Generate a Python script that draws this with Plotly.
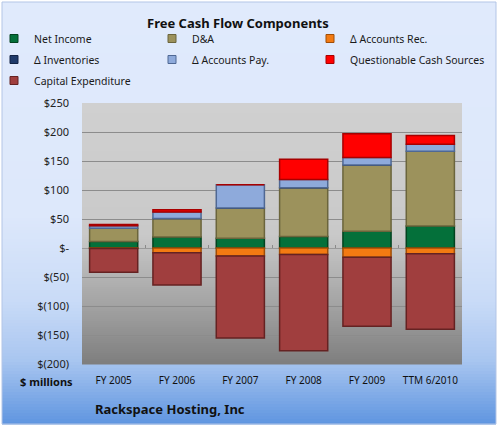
import plotly.graph_objects as go

# ---- data ($ millions) ----
periods = ["FY 2005", "FY 2006", "FY 2007", "FY 2008", "FY 2009", "TTM 6/2010"]
net_income = [11, 19, 17, 20, 29, 38]
d_and_a = [23, 32, 52, 84, 114, 129]
accounts_rec = [-1, -8, -14, -11, -16, -10]
inventories = [0, 0, 0, 0, 0, 0]
accounts_pay = [4.5, 11, 40, 14, 13, 12]
questionable = [2, 4, 0, 35, 41, 15]
capex = [-41, -56, -141, -166, -119, -130]

ytick_vals = [250, 200, 150, 100, 50, 0, -50, -100, -150, -200]
ytick_text = ["$250", "$200", "$150", "$100", "$50", "$-", "$(50)", "$(100)", "$(150)", "$(200)"]

# ---- geometry (pixels) ----
W, H = 499, 427
PL, PR, PT, PB = 82, 462, 103, 364


def px_x(px):
    return (px - PL) / (PR - PL)


def px_y(py):
    return (PB - py) / (PB - PT)


def hex2rgb(h):
    h = h.lstrip("#")
    return [int(h[i:i + 2], 16) for i in (0, 2, 4)]


def interp(stops, y):
    for (y0, c0), (y1, c1) in zip(stops, stops[1:]):
        if y0 <= y <= y1:
            t = (y - y0) / (y1 - y0) if y1 > y0 else 0
            a, b = hex2rgb(c0), hex2rgb(c1)
            return "rgb(%d,%d,%d)" % tuple(round(a[i] + (b[i] - a[i]) * t) for i in range(3))
    return stops[-1][1]


def gradient_strips(x0, x1, y0, y1, stops, step=3):
    out = []
    y = y0
    while y < y1:
        yb = min(y + step, y1)
        out.append(dict(type="rect", xref="paper", yref="paper", layer="below",
                        x0=px_x(x0), x1=px_x(x1), y0=px_y(yb + 0.5), y1=px_y(y),
                        line=dict(width=0), fillcolor=interp(stops, (y + yb) / 2)))
        y = yb
    return out


panel_stops = [(0, "#e0eafc"), (215, "#dde8fb"), (300, "#c9dbf7"), (360, "#a9c6f0"), (424, "#5f95e0")]
plot_stops = [(PT, "#d0d0d0"), (235, "#c9c9c9"), (300, "#a6a6a6"), (PB, "#7e7e7e")]

shapes = gradient_strips(2, 496, 2, 424, panel_stops)
shapes += gradient_strips(PL, PR, PT, PB, plot_stops, step=2)
shapes.append(dict(type="rect", xref="paper", yref="paper", layer="below",
                   x0=px_x(2), x1=px_x(496), y0=px_y(424), y1=px_y(2),
                   line=dict(color="#b3c5e6", width=1), fillcolor="rgba(0,0,0,0)"))

series = [
    ("Net Income", net_income, "#04703a", "#02431f", "legend"),
    ("D&A", d_and_a, "#9c925c", "#6b653c", "legend2"),
    ("Δ Accounts Rec.", accounts_rec, "#f37a12", "#a04e06", "legend3"),
    ("Δ Inventories", inventories, "#1f3a6a", "#122344", "legend"),
    ("Δ Accounts Pay.", accounts_pay, "#8eaadb", "#4f6894", "legend2"),
    ("Questionable Cash Sources", questionable, "#ff0000", "#a80000", "legend3"),
    ("Capital Expenditure", capex, "#a03e3e", "#652222", "legend"),
]

fig = go.Figure()
for name, vals, color, edge, leg in series:
    fig.add_trace(go.Bar(
        x=periods, y=vals, name=name, legendgroup=name, showlegend=False,
        marker=dict(color=color, line=dict(color=edge, width=1.5)),
    ))
# legend entries with small square swatches
for name, vals, color, edge, leg in series:
    fig.add_trace(go.Scatter(
        x=[None], y=[None], mode="markers", name=name, legend=leg, legendgroup=name,
        marker=dict(symbol="square", size=8, color=color, line=dict(color=edge, width=1)),
    ))

# small tick marks on the zero line between categories
fig.add_trace(go.Scatter(x=[None], y=[None], xaxis="x2", showlegend=False))

legend_common = dict(
    orientation="v", bgcolor="rgba(0,0,0,0)", borderwidth=0,
    font=dict(family="Noto Sans", size=10.5, color="#1a1a1a"),
    xanchor="left", yanchor="top", traceorder="grouped", tracegroupgap=2,
    itemclick=False, itemdoubleclick=False,
)
ly = px_y(24)
fig.update_layout(
    legend=dict(legend_common, x=px_x(-6), y=ly),
    legend2=dict(legend_common, x=px_x(152), y=ly),
    legend3=dict(legend_common, x=px_x(310), y=ly),
)

fig.update_layout(
    width=W, height=H,
    margin=dict(l=PL, r=W - PR, t=PT, b=H - PB, pad=0, autoexpand=False),
    paper_bgcolor="white",
    plot_bgcolor="rgba(0,0,0,0)",
    barmode="relative",
    bargap=0.24,
    shapes=shapes,
    font=dict(family="Noto Sans", size=11, color="#222"),
    xaxis=dict(
        showgrid=False, zeroline=False, showline=False, ticks="", automargin=False,
        tickfont=dict(size=10, color="#111"), ticklabelstandoff=9,
    ),
    xaxis2=dict(
        overlaying="x", anchor="free", position=px_y(248), range=[-0.5, 5.5],
        tickvals=[-0.5, 0.5, 1.5, 2.5, 3.5, 4.5, 5.5], showticklabels=False,
        ticks="inside", ticklen=3, tickcolor="#8a8a8a", showline=False,
        showgrid=False, zeroline=False, automargin=False,
    ),
    yaxis=dict(
        range=[-200, 250], tickvals=ytick_vals, ticktext=ytick_text,
        showgrid=True, gridcolor="#8c8c8c", gridwidth=1, automargin=False,
        zeroline=True, zerolinecolor="#9a9a9a", zerolinewidth=1,
        showline=False, ticks="", ticklabelstandoff=12,
        tickfont=dict(size=11, color="#222"),
    ),
    annotations=[
        dict(text="<b>Free Cash Flow Components</b>", xref="paper", yref="paper",
             x=px_x(238), y=px_y(23), showarrow=False, xanchor="center", yanchor="middle",
             font=dict(size=13, color="#111")),
        dict(text="<b>$ millions</b>", xref="paper", yref="paper",
             x=px_x(46), y=px_y(381), showarrow=False, xanchor="center", yanchor="middle",
             font=dict(size=11, color="#111")),
        dict(text="<b>Rackspace Hosting, Inc</b>", xref="paper", yref="paper",
             x=px_x(93), y=px_y(409), showarrow=False, xanchor="left", yanchor="middle",
             font=dict(size=13, color="#111")),
    ],
)

fig.write_html("out.html", config={"displayModeBar": False},
               post_script="document.body.style.margin='0';")
